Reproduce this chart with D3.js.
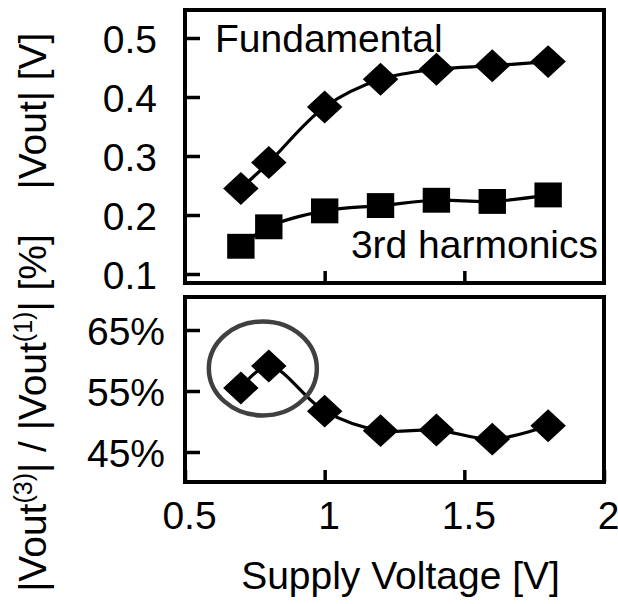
<!DOCTYPE html>
<html>
<head>
<meta charset="utf-8">
<script src="https://cdn.jsdelivr.net/npm/d3@7/dist/d3.min.js"></script>
<style>
  body { margin: 0; background: #fff; }
  text { font-family: "Liberation Sans", Arial, sans-serif; fill: #000; }
</style>
</head>
<body>
<svg id="chart" width="618" height="604"></svg>
<script>
// supply voltages (V)
var voltage = [0.7, 0.8, 1.0, 1.2, 1.4, 1.6, 1.8]
// |Vout| fundamental and 3rd harmonic (V)
var fundamental = [0.245, 0.289, 0.383, 0.430, 0.447, 0.453, 0.460]
var third = [0.147, 0.180, 0.207, 0.216, 0.225, 0.223, 0.234]
// ratio |Vout3| / |Vout1| (%)
var ratio = [55.5, 59.1, 51.7, 48.5, 48.6, 47.1, 49.3]

var xTicks = [0.5, 1, 1.5, 2]
var yTopTicks = [0.1, 0.2, 0.3, 0.4, 0.5]
var yBotTicks = [45, 55, 65]

var svg = d3.select("#chart")
var fs = 39

var x = d3.scaleLinear().domain([0.5, 2]).range([185, 604])
var yTop = d3.scaleLinear().domain([0.1, 0.5]).range([274, 38])
var yBot = d3.scaleLinear().domain([45, 65]).range([452, 330])

var topBox = { y0: 10, y1: 283 }
var botBox = { y0: 297, y1: 482 }

function drawBox(b) {
    svg.append("rect").attr("x", x(0.5)).attr("y", b.y0)
        .attr("width", x(2) - x(0.5)).attr("height", b.y1 - b.y0)
        .attr("fill", "none").attr("stroke", "#000").attr("stroke-width", 4)
}
drawBox(topBox)
drawBox(botBox)

// left axes, ticks pointing inwards
var gTop = svg.append("g").attr("transform", "translate(" + x(0.5) + ",0)")
    .call(d3.axisLeft(yTop).tickValues(yTopTicks).tickFormat(d3.format(".1f")).tickSizeInner(-15).tickSizeOuter(0).tickPadding(28))
var gBot = svg.append("g").attr("transform", "translate(" + x(0.5) + ",0)")
    .call(d3.axisLeft(yBot).tickValues(yBotTicks).tickFormat(d => d + "%").tickSizeInner(-15).tickSizeOuter(0).tickPadding(20))
// bottom axes
var gxTop = svg.append("g").attr("transform", "translate(0," + topBox.y1 + ")")
    .call(d3.axisBottom(x).tickValues([1, 1.5]).tickFormat("").tickSizeInner(-12).tickSizeOuter(0))
var gxBot = svg.append("g").attr("transform", "translate(0," + botBox.y1 + ")")
    .call(d3.axisBottom(x).tickValues(xTicks).tickFormat(d3.format("")).tickSizeInner(-12).tickSizeOuter(0).tickPadding(19))

svg.selectAll(".domain").remove()
svg.selectAll(".tick line").attr("stroke", "#000").attr("stroke-width", 3.5)
svg.selectAll(".tick text").attr("font-size", fs).attr("font-family", "Liberation Sans, Arial, sans-serif").attr("fill", "#000")
gTop.selectAll(".tick text").attr("dy", "0.36em")
gBot.selectAll(".tick text").attr("dy", "0.36em")
gxBot.selectAll(".tick text").attr("dx", 4)

var line = d3.line().curve(d3.curveCatmullRom.alpha(0.5))

function drawSeries(vals, yScale, shape) {
    var pts = voltage.map((v, i) => [x(v), yScale(vals[i])])
    svg.append("path").attr("d", line(pts)).attr("fill", "none")
        .attr("stroke", "#000").attr("stroke-width", 3.2)
    var sym = shape == "diamond" ? d3.symbol().type(d3.symbolSquare).size(540)
        : d3.symbol().type(d3.symbolSquare).size(620)
    svg.append("g").selectAll("path").data(pts).join("path")
        .attr("d", sym())
        .attr("transform", d => shape == "diamond"
            ? "translate(" + d[0] + "," + d[1] + ") scale(1.08,1) rotate(45)"
            : "translate(" + d[0] + "," + d[1] + ") scale(1.1,1)")
        .attr("fill", "#000")
}
drawSeries(fundamental, yTop, "diamond")
drawSeries(third, yTop, "square")
drawSeries(ratio, yBot, "diamond")

// highlight circle round the peak
svg.append("ellipse").attr("cx", (x(0.7) + x(0.8)) / 2 + 8).attr("cy", yBot(58.7))
    .attr("rx", 54).attr("ry", 47)
    .attr("fill", "none").attr("stroke", "#404040").attr("stroke-width", 4.5)

// labels
svg.append("text").attr("x", 215).attr("y", 52).attr("font-size", fs).text("Fundamental")
svg.append("text").attr("x", 598).attr("y", 258).attr("font-size", fs)
    .attr("text-anchor", "end").text("3rd harmonics")
svg.append("text").attr("x", (x(0.5) + x(2)) / 2 + 6).attr("y", 589).attr("font-size", fs)
    .attr("text-anchor", "middle").text("Supply Voltage [V]")

// y titles
svg.append("text").attr("transform", "translate(46,111) rotate(-90)")
    .attr("font-size", 39).attr("text-anchor", "middle").text("|Vout| [V]")
var t2 = svg.append("text").attr("transform", "translate(46,413) rotate(-90)")
    .attr("font-size", 39).attr("text-anchor", "middle")
t2.append("tspan").text("|Vout")
t2.append("tspan").attr("font-size", 25).attr("dy", -14).text("(3)")
t2.append("tspan").attr("dy", 14).text("| / |Vout")
t2.append("tspan").attr("font-size", 25).attr("dy", -14).text("(1)")
t2.append("tspan").attr("dy", 14).text("| [%]")
</script>
</body>
</html>
